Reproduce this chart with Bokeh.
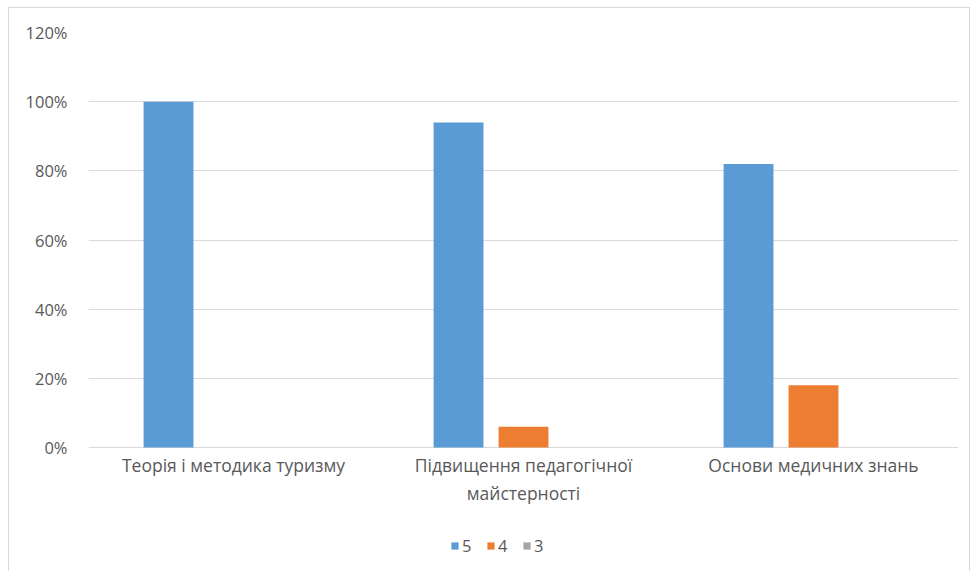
from bokeh.plotting import figure
from bokeh.models import ColumnDataSource, FactorRange, Legend, LegendItem, NumeralTickFormatter, FixedTicker, Range1d
from bokeh.core.properties import value
from bokeh.transform import dodge
from bokeh.embed import file_html
from bokeh.resources import INLINE

categories = ["Теорія і методика туризму", "Підвищення педагогічної\nмайстерності", "Основи медичних знань"]
series_names = ["5", "4", "3"]
values_5 = [1.00, 0.94, 0.82]
values_4 = [0.00, 0.06, 0.18]
values_3 = [0.00, 0.00, 0.00]
colors = ["#5b9bd5", "#ed7d31", "#a5a5a5"]
y_ticks = [0, 0.2, 0.4, 0.6, 0.8, 1.0, 1.2]

FONT = "Open Sans"
FS = "16.5px"
TEXT_COLOR = "#595959"

# frame extends below the zero line to hold category labels and legend
FRAME_H = 530
DATA_H = 415
y_max = 1.2
y_min = -y_max * (FRAME_H - DATA_H) / DATA_H

src = ColumnDataSource(dict(cat=categories, s5=values_5, s4=values_4, s3=values_3))

p = figure(frame_width=870, frame_height=FRAME_H, x_range=FactorRange(*categories, range_padding=0),
           y_range=Range1d(y_min, y_max), output_backend="svg", toolbar_location=None,
           x_axis_location=None,
           min_border_left=79, min_border_right=11, min_border_top=24, min_border_bottom=10)
p.styles = {"border": "1px solid #d9d9d9", "margin-left": "8px", "margin-top": "7px"}
p.outline_line_color = None

renderers = []
for col, off, c in zip(["s5", "s4", "s3"], [-0.224, 0.0, 0.224], colors):
    r = p.vbar(x=dodge("cat", off, range=p.x_range), top=col, width=0.172, source=src,
               fill_color=c, line_color=None)
    renderers.append(r)

# category labels under the zero line
p.text(x="cat", y=0, text="cat", source=src, text_align="center", text_baseline="top",
       y_offset=5, text_font=value(FONT), text_font_size="17.5px", text_color=TEXT_COLOR)

p.yaxis.ticker = FixedTicker(ticks=y_ticks)
p.yaxis.formatter = NumeralTickFormatter(format="0%")
p.yaxis.axis_line_color = None
p.yaxis.major_tick_line_color = None
p.yaxis.minor_tick_line_color = None
p.yaxis.major_label_text_font = FONT
p.yaxis.major_label_text_font_size = FS
p.yaxis.major_label_text_color = TEXT_COLOR
p.yaxis.major_label_standoff = 15

p.xgrid.grid_line_color = None
p.ygrid.grid_line_color = "#d9d9d9"

legend = Legend(items=[LegendItem(label=n, renderers=[r]) for n, r in zip(series_names, renderers)],
                orientation="horizontal", location=(362, 5), border_line_color=None,
                background_fill_alpha=0,
                label_text_font=FONT, label_text_font_size=FS, label_text_color=TEXT_COLOR,
                glyph_width=9, glyph_height=9, spacing=14, label_standoff=3, label_width=10,
                padding=3, margin=0)
p.add_layout(legend, "center")

open("out.html", "w").write(file_html(p, INLINE))
